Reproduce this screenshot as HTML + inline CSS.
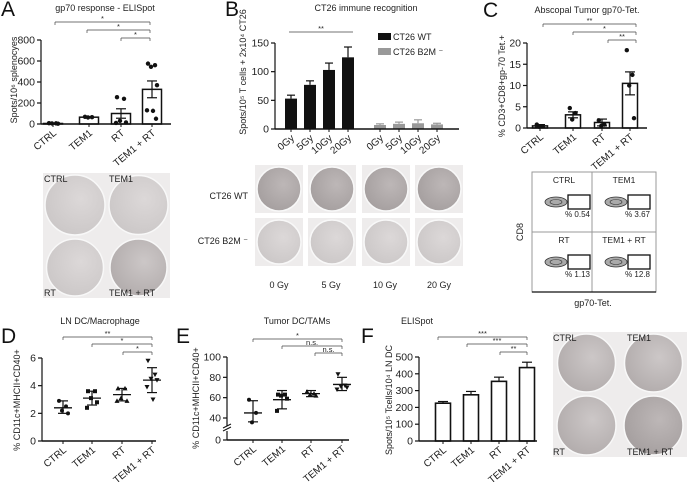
<!DOCTYPE html>
<html><head><meta charset="utf-8"><style>
html,body{margin:0;padding:0;background:#fff}
svg{display:block;font-family:"Liberation Sans",sans-serif}
.t{font-size:9px;fill:#222}
.tk{font-size:9px;fill:#222}
.L{font-size:21px;fill:#111}
</style></head><body>
<svg id="fig" width="689" height="482" viewBox="0 0 689 482">
<defs>
<radialGradient id="gl" cx="0.6" cy="0.4" r="0.7"><stop offset="0" stop-color="#dcd8d8"/><stop offset="1" stop-color="#cac6c6"/></radialGradient>
<radialGradient id="gd" cx="0.6" cy="0.4" r="0.7"><stop offset="0" stop-color="#bdb7b7"/><stop offset="1" stop-color="#a39d9d"/></radialGradient>
<radialGradient id="gm" cx="0.6" cy="0.4" r="0.7"><stop offset="0" stop-color="#ccc7c7"/><stop offset="1" stop-color="#b0aaaa"/></radialGradient>
</defs>
<text class="L" x="1" y="16">A</text>
<text class="L" x="225" y="16">B</text>
<text class="L" x="483" y="17">C</text>
<text class="L" x="1" y="343">D</text>
<text class="L" x="176" y="343">E</text>
<text class="L" x="361" y="343">F</text>
<text class="t" x="105" y="11" text-anchor="middle">gp70 response - ELISpot</text>
<text class="t" x="366" y="11" text-anchor="middle">CT26 immune recognition</text>
<text class="t" x="587" y="13" text-anchor="middle">Abscopal Tumor gp70-Tet.</text>
<text class="t" x="100" y="324" text-anchor="middle">LN DC/Macrophage</text>
<text class="t" x="297" y="324" text-anchor="middle">Tumor DC/TAMs</text>
<text class="t" x="417" y="324" text-anchor="middle">ELISpot</text>
<text class="t" transform="translate(17,80) rotate(-90)" text-anchor="middle">Spots/10⁶ splenocyes</text>
<text class="t" transform="translate(246,72) rotate(-90)" text-anchor="middle">Spots/10⁵ T cells + 2x10⁴ CT26</text>
<text class="t" transform="translate(505,86) rotate(-90)" text-anchor="middle">% CD3+CD8+gp-70 Tet.+</text>
<text class="t" transform="translate(20,400) rotate(-90)" text-anchor="middle">% CD11c+MHCII+CD40+</text>
<text class="t" transform="translate(199,398) rotate(-90)" text-anchor="middle">% CD11c+MHCII+CD40+</text>
<text class="t" transform="translate(392,400) rotate(-90)" text-anchor="middle">Spots/10⁵ Tcells/10⁴ LN DC</text>
<rect x="378" y="33" width="13" height="7" fill="#111"/>
<text class="t" x="393" y="40">CT26 WT</text>
<rect x="378" y="48" width="13" height="7" fill="#999"/>
<text class="t" x="393" y="55">CT26 B2M ⁻</text>
<text class="t" x="248" y="199" text-anchor="end">CT26 WT</text>
<text class="t" x="248" y="244" text-anchor="end">CT26 B2M ⁻</text>
<text class="t" x="279" y="288" text-anchor="middle">0 Gy</text>
<text class="t" x="331" y="288" text-anchor="middle">5 Gy</text>
<text class="t" x="385" y="288" text-anchor="middle">10 Gy</text>
<text class="t" x="439" y="288" text-anchor="middle">20 Gy</text>
<text class="t" transform="translate(523,232) rotate(-90)" text-anchor="middle">CD8</text>
<text class="t" x="593" y="306" text-anchor="middle">gp70-Tet.</text>
<g id="plates"></g>
</svg>
<script>
const NS='http://www.w3.org/2000/svg';
const svg=document.getElementById('fig');
function add(tag,attrs,name,parent){
  const e=document.createElementNS(NS,tag);
  for(const k in attrs) e.setAttribute(k,attrs[k]);
  
  
  (parent||svg).appendChild(e);
  return e;
}
function txt(x,y,s,name,anchor,size,tr){
  const e=add('text',{x:x,y:y,'text-anchor':anchor||'middle','font-size':size||9,fill:'#222'},name);
  if(tr) e.setAttribute('transform',tr);
  e.textContent=s;
  return e;
}
function line(x1,y1,x2,y2,name,w,c){return add('line',{x1:x1,y1:y1,x2:x2,y2:y2,stroke:c||'#111','stroke-width':w||1},name);}

const catsABC=['CTRL','TEM1','RT','TEM1 + RT'];
const aTicks=[0,200,400,600,800];
const aMeans=[5,65,100,330];
const aErr=[3,5,45,80];
const aPts=[[8,6,5,3],[68,65,62],[255,240,30,15,10],[575,560,545,370,130,125,50]];

const bCats=['0Gy','5Gy','10Gy','20Gy'];
const bTicks=[0,50,100,150];
const bWT=[53,77,103,125];
const bWTErr=[6,7,12,18];
const bB2M=[7,9,10,8];
const bB2MErr=[2,3,6,2];

const cTicks=[0,5,10,15,20];
const cMeans=[0.5,3.1,1.3,10.5];
const cErr=[0.3,0.7,0.8,2.7];
const cPts=[[0.8,0.4,0.3],[4.7,3.5,2.0],[1.8,0.8,0.5],[18.3,12.5,10,2.3]];
const cPct=['% 0.54','% 3.67','% 1.13','% 12.8'];

const dTicks=[0,2,4,6];
const dMean=[2.4,3.1,3.35,4.4];
const dLo=[2.0,2.6,2.9,3.5];
const dHi=[2.9,3.6,3.8,5.3];
const dPts=[[2.9,2.5,2.2,2.0],[3.6,3.6,3.1,2.8,2.4],[3.8,3.8,3.1,2.9,2.9],[5.8,4.8,4.5,4.4,3.9,3.0]];

const eTicks=[0,40,60,80,100];
const eMean=[45,58,64,73];
const eLo=[33,49,61,67];
const eHi=[57,67,67,80];
const ePts=[[58,45,32],[63,63,62,59,47],[66,64,63,62],[83,72,71,70,68]];

const fTicks=[0,100,200,300,400,500];
const fMeans=[225,275,355,437];
const fErr=[10,20,25,32];

const yA=v=>124-v/800*84;
const yB=v=>129-v/150*86;
const yC=v=>128-v/20*85;
const yD=v=>441-v/6*83;
const yE=v=>v<40?440-v/40*22:418-(v-40)/60*61;
const yF=v=>441-v/500*84;

function yAxis(x,yf,ticks,name){
  line(x,yf(ticks[0])+0.5,x,yf(ticks[ticks.length-1]),name+'-line',1.2);
  ticks.forEach((t,i)=>{
    const y=yf(t);
    line(x-4,y,x,y,name+'-tick',1.2);
    txt(x-6,y+3.5,String(t),name+'-tick-label','end',10.5);
  });
}
function xAxis(x1,x2,y,name){line(x1,y,x2,y,name,1.5);}
function xLabels(xs,cats,y,name){
  cats.forEach((c,i)=>{
    line(xs[i],y,xs[i],y+3,name+'-tick',1);
    txt(xs[i]+4,y+10,c,name+'-label','end',10,'rotate(-40 '+(xs[i]+4)+' '+(y+10)+')');
  });
}
function bracket(x1,x2,y,s,name){
  line(x1,y,x2,y,name,0.7,'#444');
  line(x1,y,x1,y+3,name+'-end',0.7,'#444');
  line(x2,y,x2,y+3,name+'-end',0.7,'#444');
  txt((x1+x2)/2,y-1,s,name+'-label','middle',7.5);
}
function dot(x,y,name){return add('circle',{cx:x,cy:y,r:2.2,fill:'#111'},name);}
function marker(x,y,k,name){
  if(k===0) return add('circle',{cx:x,cy:y,r:2,fill:'#111'},name);
  if(k===1) return add('rect',{x:x-2,y:y-2,width:4,height:4,fill:'#111'},name);
  if(k===2) return add('path',{d:'M'+x+' '+(y-2.5)+'L'+(x+2.5)+' '+(y+2)+'L'+(x-2.5)+' '+(y+2)+'Z',fill:'#111'},name);
  return add('path',{d:'M'+x+' '+(y+2.5)+'L'+(x+2.5)+' '+(y-2)+'L'+(x-2.5)+' '+(y-2)+'Z',fill:'#111'},name);
}
const jit=[-4,3,-1,5,-5,1,4];

const aX=[53,89,121,152];
yAxis(41,yA,aTicks,'a-y-axis');
aMeans.forEach((v,i)=>{
  add('rect',{x:aX[i]-9.5,y:yA(v),width:19,height:124-yA(v),fill:'#fff',stroke:'#111','stroke-width':1.5},'a-bar-'+i);
  line(aX[i],yA(v+aErr[i]),aX[i],yA(v-aErr[i]),'a-error-bar',1.2);
  line(aX[i]-5,yA(v+aErr[i]),aX[i]+5,yA(v+aErr[i]),'a-error-cap',1.2);
  line(aX[i]-5,yA(v-aErr[i]),aX[i]+5,yA(v-aErr[i]),'a-error-cap',1.2);
  aPts[i].forEach((p,j)=>dot(aX[i]+jit[j],yA(p),'a-point'));
});
xAxis(41,171,124,'a-x-axis');
xLabels(aX,catsABC,124,'a-x');
bracket(55,150,22,'*','a-sig-1');
bracket(87,150,30,'*','a-sig-2');
bracket(121,150,38,'*','a-sig-3');

const bX1=[291,310,329,348], bX2=[380,399,418,437];
yAxis(275,yB,bTicks,'b-y-axis');
function bBars(xs,vals,errs,col,nm){
  vals.forEach((v,i)=>{
    line(xs[i],yB(v),xs[i],yB(v+errs[i]),nm+'-error',1.2,col);
    line(xs[i]-4,yB(v+errs[i]),xs[i]+4,yB(v+errs[i]),nm+'-error-cap',1.2,col);
    add('rect',{x:xs[i]-6,y:yB(v),width:12,height:129-yB(v),fill:col},nm+'-bar-'+i);
  });
}
bBars(bX1,bWT,bWTErr,'#111','b-wt');
bBars(bX2,bB2M,bB2MErr,'#999','b-b2m');
xAxis(275,459,129,'b-x-axis');
xLabels(bX1,bCats,129,'b-x-wt');
xLabels(bX2,bCats,129,'b-x-b2m');
line(289,32,353,32,'b-sig',0.7,'#444');
txt(321,31,'**','b-sig-label','middle',7.5);

const cX=[540,573,602,630];
yAxis(527,yC,cTicks,'c-y-axis');
cMeans.forEach((v,i)=>{
  add('rect',{x:cX[i]-7.5,y:yC(v),width:15,height:128-yC(v),fill:'#fff',stroke:'#111','stroke-width':1.5},'c-bar-'+i);
  line(cX[i],yC(v+cErr[i]),cX[i],yC(v-cErr[i]),'c-error-bar',1.2);
  line(cX[i]-5,yC(v+cErr[i]),cX[i]+5,yC(v+cErr[i]),'c-error-cap',1.2);
  line(cX[i]-5,yC(v-cErr[i]),cX[i]+5,yC(v-cErr[i]),'c-error-cap',1.2);
  cPts[i].forEach((p,j)=>dot(cX[i]+jit[j]*0.8,yC(p),'c-point'));
});
xAxis(527,647,128,'c-x-axis');
xLabels(cX,catsABC,128,'c-x');
bracket(543,636,24,'**','c-sig-1');
bracket(573,636,32,'*','c-sig-2');
bracket(608,636,40,'**','c-sig-3');

add('rect',{x:532,y:172,width:124,height:120,fill:'none',stroke:'#999','stroke-width':1},'flow-grid');
line(592,172,592,292,'flow-divider',1,'#999');
line(532,232,656,232,'flow-divider',1,'#999');
line(532,292,656,292,'flow-baseline',1.2);
const fpos=[[532,172],[592,172],[532,232],[592,232]];
catsABC.forEach((c,i)=>{
  const [x,y]=fpos[i];
  txt(x+32,y+11,c,'flow-title','middle',8.5);
  add('ellipse',{cx:x+24,cy:y+30,rx:11,ry:5,fill:'#aaa',stroke:'#333','stroke-width':0.8},'flow-contour');
  add('ellipse',{cx:x+24,cy:y+30,rx:6,ry:2.5,fill:'none',stroke:'#333','stroke-width':0.6},'flow-contour-inner');
  add('rect',{x:x+36,y:y+23,width:22,height:14,fill:'none',stroke:'#111','stroke-width':1.3},'flow-gate');
  txt(x+58,y+45,cPct[i],'flow-percent','end',8);
});

const dX=[63,92,122,152];
yAxis(42,yD,dTicks,'d-y-axis');
dMean.forEach((v,i)=>{
  line(dX[i]-9,yD(v),dX[i]+9,yD(v),'d-mean',1.3);
  line(dX[i],yD(dLo[i]),dX[i],yD(dHi[i]),'d-sd',1.2);
  line(dX[i]-5,yD(dLo[i]),dX[i]+5,yD(dLo[i]),'d-sd-cap',1.2);
  line(dX[i]-5,yD(dHi[i]),dX[i]+5,yD(dHi[i]),'d-sd-cap',1.2);
  dPts[i].forEach((p,j)=>marker(dX[i]+jit[j],yD(p),i,'d-point'));
});
xAxis(42,156,441,'d-x-axis');
xLabels(dX,catsABC,441,'d-x');
bracket(63,152,337,'**','d-sig-1');
bracket(92,152,344,'*','d-sig-2');
bracket(123,152,352,'*','d-sig-3');

const eX=[253,282,311,342];
line(227,440.5,227,431,'e-y-axis-line-low',1.2);
line(227,426,227,yE(100),'e-y-axis-line',1.2);
line(223,431,231,427,'e-axis-break',1);
line(223,428,231,424,'e-axis-break',1);
eTicks.forEach(t=>{const y=yE(t);line(223,y,227,y,'e-y-axis-tick',1.2);txt(221,y+3.5,String(t),'e-y-axis-tick-label','end',10.5);});
eMean.forEach((v,i)=>{
  line(eX[i]-9,yE(v),eX[i]+9,yE(v),'e-mean',1.3);
  line(eX[i],yE(eLo[i]),eX[i],yE(eHi[i]),'e-sd',1.2);
  line(eX[i]-5,yE(eLo[i]),eX[i]+5,yE(eLo[i]),'e-sd-cap',1.2);
  line(eX[i]-5,yE(eHi[i]),eX[i]+5,yE(eHi[i]),'e-sd-cap',1.2);
  ePts[i].forEach((p,j)=>marker(eX[i]+jit[j],yE(p),i,'e-point'));
});
xAxis(227,349,440,'e-x-axis');
xLabels(eX,catsABC,440,'e-x');
bracket(253,342,339,'*','e-sig-1');
bracket(282,342,346,'n.s.','e-sig-2');
bracket(315,342,353,'n.s.','e-sig-3');

const fX=[443,471,499,527];
yAxis(419,yF,fTicks,'f-y-axis');
fMeans.forEach((v,i)=>{
  line(fX[i],yF(v),fX[i],yF(v+fErr[i]),'f-error',1.2);
  line(fX[i]-5,yF(v+fErr[i]),fX[i]+5,yF(v+fErr[i]),'f-error-cap',1.2);
  add('rect',{x:fX[i]-7.5,y:yF(v),width:15,height:441-yF(v),fill:'#fff',stroke:'#111','stroke-width':1.6},'f-bar-'+i);
});
xAxis(419,537,441,'f-x-axis');
xLabels(fX,catsABC,441,'f-x');
bracket(438,527,337,'***','f-sig-1');
bracket(467,527,344,'***','f-sig-2');
bracket(500,527,352,'**','f-sig-3');

const pg=document.getElementById('plates');
function plate(x,y,w,h,grad,name){
  const g=add('g',{},name,pg);
  add('rect',{x:x,y:y,width:w,height:h,fill:'#eeecec'},name+'-bg',g);
  const r=Math.min(w,h)/2-2;
  add('circle',{cx:x+w/2,cy:y+h/2,r:r,fill:'url(#'+grad+')',stroke:'#f8f8f8','stroke-width':1.5},name+'-well',g);
}
plate(43,173,64,64,'gl','a-plate-ctrl');plate(107,173,63,64,'gl','a-plate-tem1');
plate(43,237,64,61,'gl','a-plate-rt');plate(107,237,63,61,'gm','a-plate-tem1-rt');
[255,308,362,415].forEach((x,i)=>{plate(x,165,48,48,'gd','b-plate-wt');plate(x,218,48,48,'gl','b-plate-b2m');});
plate(553,332,67,62,'gm','f-plate-ctrl');plate(620,332,67,62,'gm','f-plate-tem1');
plate(553,394,67,63,'gm','f-plate-rt');plate(620,394,67,63,'gd','f-plate-tem1-rt');
txt(44,182,'CTRL','a-plate-label','start',9);txt(109,182,'TEM1','a-plate-label','start',9);
txt(44,296,'RT','a-plate-label','start',9);txt(109,296,'TEM1 + RT','a-plate-label','start',9);
txt(553,341,'CTRL','f-plate-label','start',9);txt(627,341,'TEM1','f-plate-label','start',9);
txt(553,455,'RT','f-plate-label','start',9);txt(627,455,'TEM1 + RT','f-plate-label','start',9);
</script>
</body></html>
